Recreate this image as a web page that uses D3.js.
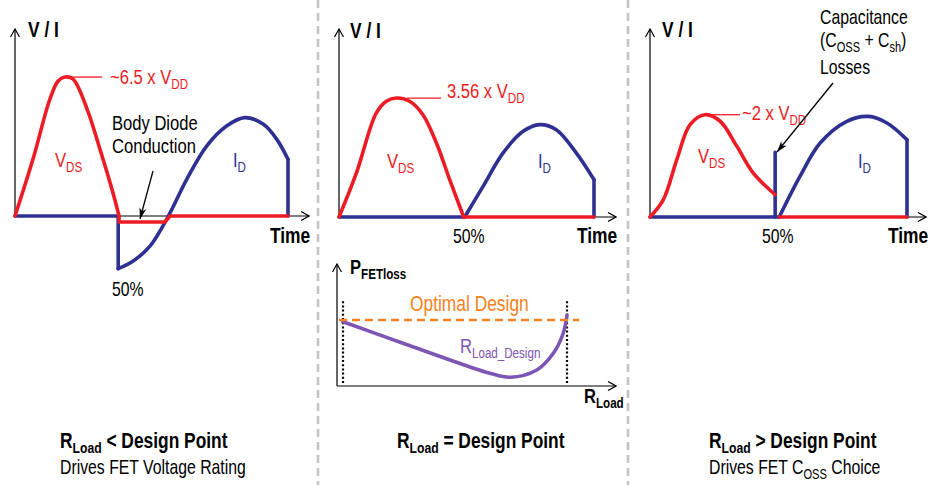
<!DOCTYPE html>
<html>
<head>
<meta charset="utf-8">
<script src="https://cdn.jsdelivr.net/npm/d3@7"></script>
<style>
  body { margin: 0; background: #fff; }
  svg { display: block; }
  text { font-family: "Liberation Sans", Arial, sans-serif; }
</style>
</head>
<body>
<script>

// DATA: waveforms in % of switching period (t) and % of axis height (v)
//
// panel 1 : R_Load < design point
var vdsHump1 = [[0,0],[6.6,30.6],[12.8,62.9],[15.8,72.6],[18.3,74.7],[21.2,73.7],[26.4,57.5],[31.1,36],[35.9,12.4],[38.1,0]];
var vdsTail1 = [[38.1,0],[38.1,-3.2],[54.9,-3.2],[56.8,0],[100,0]];
var idBase1 = [[0,0],[37.8,0],[37.8,-28.3]];
var idWave1 = [[37.8,-28.3],[43.3,-24.2],[49.5,-16.1],[56.2,0],[62.9,19.7],[70.2,37.6],[77.5,48.4],[84.2,52.9],[91,49.3],[95.9,41.2],[100,30.5]];
var idEnd1 = [[100,30.5],[100,0]];

// panel 2 : R_Load = design point
var vdsHump2 = [[0,0],[6.8,23.5],[14.6,55.6],[18.6,61.9],[22.5,63.6],[27.7,61.9],[32.9,54.7],[38.2,39.6],[43.4,20],[48.9,0]];
var vdsTail2 = [[48.9,0],[100,0]];
var idBase2 = [[0,0],[49.3,0]];
var idWave2 = [[49.3,0],[56.5,16.4],[64.3,34.2],[72.2,45.8],[78.7,49.4],[85.2,46.7],[93.1,34.2],[100,20]];
var idEnd2 = [[100,20],[100,0]];

// panel 3 : R_Load > design point
var vdsHump3 = [[0,0],[5.2,9.3],[10.4,30.6],[15.6,49.4],[21.4,54.7],[27.3,51.2],[33.8,37.8],[40.2,23.5],[48.7,11.9]];
var vdsTail3 = [[50.3,0],[100,0]];
var idBase3 = [[0,0],[48.7,0],[48.7,34.6]];
var idJump3 = [[48.7,0],[50.3,0]];
var idWave3 = [[50.3,0],[58.4,21.8],[66.2,39.6],[76.6,51.2],[85,53.8],[92.2,50.3],[100,41.3]];
var idEnd3 = [[100,41.3],[100,0]];

// FET loss vs R_Load (0..100 between the dotted limits)
var lossCurve = [[0,53.1],[28,34.5],[56.7,15.7],[65.6,10.5],[74.6,7.2],[86.5,13.2],[93.9,27],[98.3,43.6],[100,58.7]];
var optimalLevel = 54.5;
var optimalRange = [-1.8, 105.4];
var limitMarks = [0, 100];
var limitSpan = [2.5, 71];

// TEXTS (each entry: [string, isSubscript])
var peakLabels = [
  [["~6.5 x V"],["DD",1]],
  [["3.56 x V"],["DD",1]],
  [["~2 x V"],["DD",1]]
];
var titles = [
  [["R"],["Load",1],[" < Design Point"]],
  [["R"],["Load",1],[" = Design Point"]],
  [["R"],["Load",1],[" > Design Point"]]
];
var subtitles = [
  [["Drives FET Voltage Rating"]],
  null,
  [["Drives FET C"],["OSS",1],[" Choice"]]
];
var capNote = [
  [["Capacitance"]],
  [["(C"],["OSS",1],[" + C"],["sh",1],[")"]],
  [["Losses"]]
];
var capNoteY = [24, 47, 74];
var diodeNote = ["Body Diode", "Conduction"];

// COLORI
//
var RED = "#ed1c24";
var BLUE = "#2e3192";
var ORANGE = "#f58220";
var PURPLE = "#7d55b4";
var NARROW = 0.79;   // compressione orizzontale per imitare il font condensed

var width = 932;
var height = 485;

var svg = d3.select("body").append("svg")
  .attr("width", width)
  .attr("height", height);

svg.append("rect").attr("width", width).attr("height", height).attr("fill", "#fff");

var defs = svg.append("defs");
defs.append("marker")
  .attr("id", "axisHead")
  .attr("viewBox", "0 0 10 10")
  .attr("refX", 9).attr("refY", 5)
  .attr("markerWidth", 10).attr("markerHeight", 10)
  .attr("markerUnits", "userSpaceOnUse")
  .attr("orient", "auto")
  .append("path")
  .attr("d", "M1,0.5 L9,5 L1,9.5")
  .attr("fill", "none").attr("stroke", "#000").attr("stroke-width", 1.2);

defs.append("marker")
  .attr("id", "noteHead")
  .attr("viewBox", "0 0 12 10")
  .attr("refX", 11).attr("refY", 5)
  .attr("markerWidth", 12).attr("markerHeight", 10)
  .attr("markerUnits", "userSpaceOnUse")
  .attr("orient", "auto")
  .append("path")
  .attr("d", "M0,1.5 L11,5 L0,8.5 L3,5 Z")
  .attr("fill", "#000");

// testo con pedici (compresso in orizzontale)
//
function richText(g, x, y, parts, size, color, weight) {
  var t = g.append("g")
    .attr("transform", "translate(" + x + "," + y + ") scale(" + NARROW + ",1)")
    .append("text")
    .attr("x", 0).attr("y", 0)
    .attr("font-size", size)
    .attr("fill", color || "#000")
    .attr("font-weight", weight || "normal");
  if (typeof parts === "string") parts = [[parts]];
  var shifted = false;
  parts.forEach(function(p) {
    var s = t.append("tspan").text(p[0]);
    if (p[1] && !shifted) {
      s.attr("font-size", size * 0.7).attr("dy", size * 0.24);
      shifted = true;
    } else if (!p[1] && shifted) {
      s.attr("dy", -size * 0.24);
      shifted = false;
    } else if (p[1]) {
      s.attr("font-size", size * 0.7);
    }
  });
  return t;
}

function arrowLine(g, x1, y1, x2, y2, marker, w) {
  g.append("line")
    .attr("x1", x1).attr("y1", y1).attr("x2", x2).attr("y2", y2)
    .attr("stroke", "#000").attr("stroke-width", w || 1.2)
    .attr("marker-end", "url(#" + marker + ")");
}

// PANNELLI FORMA D'ONDA
//
var panels = [
  { ox: 15,  base: 216, end: 288, top: 30, axisEnd: 309,
    vdsHump: vdsHump1, vdsTail: vdsTail1, idParts: [idBase1, idEnd1], idCurves: [idWave1],
    peak: [18.3, 74.7], leader: [20.9, 31.9], peakText: [110, 84],
    vdsText: [55, 167], idText: [233, 167], pctText: [112, 296], timeText: [270, 243], viText: [28, 37] },
  { ox: 339, base: 217, end: 594, top: 30, axisEnd: 616,
    vdsHump: vdsHump2, vdsTail: vdsTail2, idParts: [idBase2, idEnd2], idCurves: [idWave2],
    peak: [22.5, 63.6], leader: [26.7, 40], peakText: [447, 98],
    vdsText: [387, 168], idText: [538, 168], pctText: [453, 243], timeText: [577, 243], viText: [350, 38] },
  { ox: 650, base: 217, end: 907, top: 30, axisEnd: 926,
    vdsHump: vdsHump3, vdsTail: vdsTail3, idParts: [idBase3, idJump3, idEnd3], idCurves: [idWave3],
    peak: [21.4, 54.7], leader: [24.1, 35], peakText: [742, 120],
    vdsText: [698, 163], idText: [858, 168], pctText: [762, 243], timeText: [888, 243], viText: [662, 37] }
];

panels.forEach(function(p, i) {
  var g = svg.append("g");
  var x = d3.scaleLinear().domain([0, 100]).range([p.ox, p.end]);
  var y = d3.scaleLinear().domain([0, 100]).range([p.base, p.top]);

  var straight = d3.line().x(function(d) { return x(d[0]); }).y(function(d) { return y(d[1]); });
  var smooth = d3.line().x(function(d) { return x(d[0]); }).y(function(d) { return y(d[1]); })
    .curve(d3.curveCatmullRom.alpha(0.5));

  // assi
  arrowLine(g, p.ox, p.base, p.ox, p.top - 1, "axisHead");
  arrowLine(g, p.ox, p.base, p.axisEnd, p.base, "axisHead");

  // I_D
  p.idParts.forEach(function(d) {
    g.append("path").attr("d", straight(d)).attr("fill", "none")
      .attr("stroke", BLUE).attr("stroke-width", 3.6).attr("stroke-linejoin", "round").attr("stroke-linecap", "round");
  });
  p.idCurves.forEach(function(d) {
    g.append("path").attr("d", smooth(d)).attr("fill", "none")
      .attr("stroke", BLUE).attr("stroke-width", 3.6).attr("stroke-linecap", "round");
  });

  // V_DS
  g.append("path").attr("d", straight(p.vdsTail)).attr("fill", "none")
    .attr("stroke", RED).attr("stroke-width", 3.6).attr("stroke-linejoin", "round").attr("stroke-linecap", "round");
  g.append("path").attr("d", smooth(p.vdsHump)).attr("fill", "none")
    .attr("stroke", RED).attr("stroke-width", 3.6).attr("stroke-linecap", "round");

  // linea di richiamo del picco
  g.append("line")
    .attr("x1", x(p.leader[0])).attr("x2", x(p.leader[1]))
    .attr("y1", y(p.peak[1])).attr("y2", y(p.peak[1]))
    .attr("stroke", RED).attr("stroke-width", 1.3);

  richText(g, p.peakText[0], p.peakText[1], peakLabels[i], 21, RED);
  richText(g, p.vdsText[0], p.vdsText[1], [["V"],["DS",1]], 21, RED);
  richText(g, p.idText[0], p.idText[1], [["I"],["D",1]], 21, BLUE);
  richText(g, p.pctText[0], p.pctText[1], "50%", 20, "#000");
  richText(g, p.timeText[0], p.timeText[1], "Time", 22, "#000", "bold");
  richText(g, p.viText[0], p.viText[1], "V / I", 22, "#000", "bold");
});

// annotazioni
diodeNote.forEach(function(s, i) {
  richText(svg, 112, 130 + i * 23, s, 21, "#000");
});
arrowLine(svg, 153, 171, 140, 219, "noteHead", 1.3);

capNote.forEach(function(parts, i) {
  richText(svg, 820, capNoteY[i], parts, 20, "#000");
});
arrowLine(svg, 833, 83, 777, 152, "noteHead", 1.3);

// GRAFICO PERDITE
//
var lg = svg.append("g");
var lx = d3.scaleLinear().domain([0, 100]).range([343, 567]);
var ly = d3.scaleLinear().domain([0, 100]).range([386, 265]);

arrowLine(lg, 337, 386, 337, 264, "axisHead");
arrowLine(lg, 337, 386, 616, 386, "axisHead");

limitMarks.forEach(function(m) {
  lg.append("line")
    .attr("x1", lx(m)).attr("x2", lx(m))
    .attr("y1", ly(limitSpan[0])).attr("y2", ly(limitSpan[1]))
    .attr("stroke", "#000").attr("stroke-width", 2.2).attr("stroke-dasharray", "2,2.2");
});

lg.append("path")
  .attr("d", d3.line().x(function(d) { return lx(d[0]); }).y(function(d) { return ly(d[1]); })
    .curve(d3.curveCatmullRom.alpha(0.5))(lossCurve))
  .attr("fill", "none").attr("stroke", PURPLE).attr("stroke-width", 3.6).attr("stroke-linecap", "round");

lg.append("line")
  .attr("x1", lx(optimalRange[0])).attr("x2", lx(optimalRange[1]))
  .attr("y1", ly(optimalLevel)).attr("y2", ly(optimalLevel))
  .attr("stroke", ORANGE).attr("stroke-width", 2.6).attr("stroke-dasharray", "8,5");

richText(lg, 410, 311, "Optimal Design", 22, ORANGE);
richText(lg, 460, 353, [["R"],["Load_Design",1]], 21, PURPLE);
richText(lg, 350, 274, [["P"],["FETloss",1]], 21, "#000", "bold");
richText(lg, 584, 403, [["R"],["Load",1]], 21, "#000", "bold");

// separatori
[318, 628].forEach(function(sx) {
  svg.append("line")
    .attr("x1", sx).attr("x2", sx).attr("y1", 0).attr("y2", height)
    .attr("stroke", "#c4c4c4").attr("stroke-width", 2.6).attr("stroke-dasharray", "8,5");
});

// titoli in basso
var titleX = [60, 397, 709];
titles.forEach(function(t, i) {
  richText(svg, titleX[i], 448, t, 22, "#000", "bold");
  if (subtitles[i]) richText(svg, titleX[i], 474, subtitles[i], 20, "#000");
});

</script>
</body>
</html>
